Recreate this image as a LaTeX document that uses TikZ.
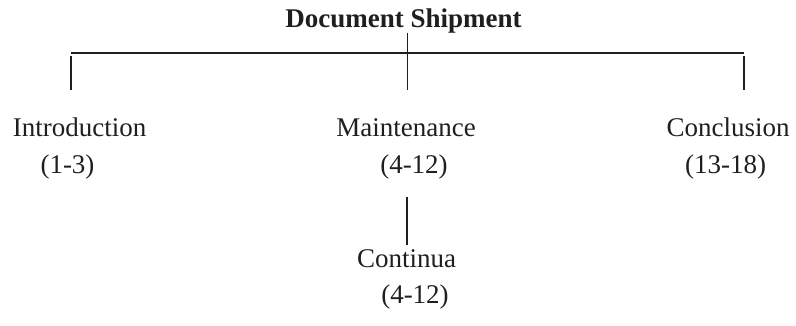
\documentclass[tikz,border=0pt]{standalone}
\usepackage{fontspec}
\setmainfont{Liberation Serif}
\begin{document}
\begin{tikzpicture}[x=1pt,y=-1pt,
  lbl/.style={anchor=base,inner sep=0pt,text=black!88,font=\fontsize{27}{33}\selectfont},
  ttl/.style={lbl,font=\fontsize{27}{33}\selectfont\bfseries},
  link/.style={draw=black!88,line width=1.25pt}]
\useasboundingbox (0,0) rectangle (796,326);
% texts
\node[ttl] (title) at (403.5,28) {Document Shipment};
\node[lbl] (intro) at (79.7,137) {Introduction};
\node[lbl] (introp) at (67.5,173.5) {(1-3)};
\node[lbl] (maint) at (406,137) {Maintenance};
\node[lbl] (maintp) at (414,173.5) {(4-12)};
\node[lbl] (concl) at (728,137) {Conclusion};
\node[lbl] (conclp) at (725.5,173.5) {(13-18)};
\node[lbl] (cont) at (406.7,267) {Continua};
\node[lbl] (contp) at (415,303.5) {(4-12)};
% connector points
\coordinate (top) at (407.5,33);
\coordinate (hl) at (71,53);
\coordinate (hr) at (744,53);
\coordinate (ll) at (71,56);
\coordinate (lb) at (71,90);
\coordinate (rl) at (744,56);
\coordinate (rb) at (744,90);
\coordinate (mb) at (407.5,90);
\coordinate (ct) at (407,197);
\coordinate (cb) at (407,245);
% connectors
\draw[link] (hl) -- (hr);
\draw[link] (ll) -- (lb);
\draw[link] (rl) -- (rb);
\draw[link] (top) -- (mb);
\draw[link] (ct) -- (cb);
\end{tikzpicture}
\end{document}
